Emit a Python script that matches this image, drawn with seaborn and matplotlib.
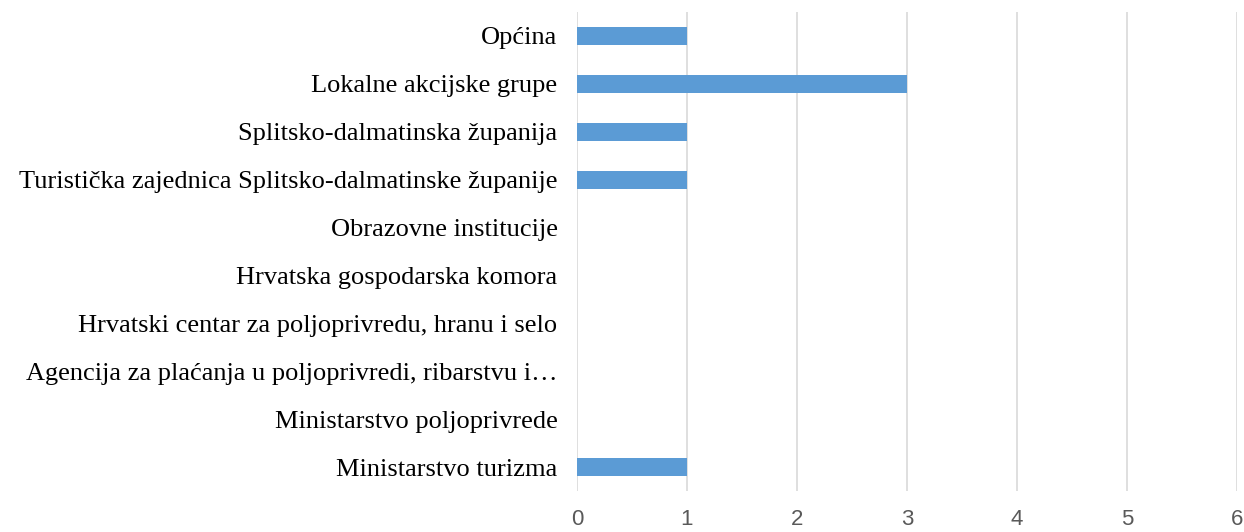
import matplotlib
matplotlib.use("Agg")
import matplotlib.pyplot as plt
import seaborn as sns
import pandas as pd

categories = [
    "Općina",
    "Lokalne akcijske grupe",
    "Splitsko-dalmatinska županija",
    "Turistička zajednica Splitsko-dalmatinske županije",
    "Obrazovne institucije",
    "Hrvatska gospodarska komora",
    "Hrvatski centar za poljoprivredu, hranu i selo",
    "Agencija za plaćanja u poljoprivredi, ribarstvu i…",
    "Ministarstvo poljoprivrede",
    "Ministarstvo turizma",
]
values = [1, 3, 1, 1, 0, 0, 0, 0, 0, 1]
x_ticks = [0, 1, 2, 3, 4, 5, 6]

df = pd.DataFrame({"category": categories, "value": values})

sns.set_style("white")
fig = plt.figure(figsize=(12.44, 5.32), dpi=100)
ax = fig.add_axes([577 / 1244, 1 - 491 / 532, 660 / 1244, 479 / 532])

sns.barplot(data=df, x="value", y="category", orient="h", color="#5B9BD5",
            width=0.375, linewidth=0, saturation=1, ax=ax)

ax.set_xlim(0, 6)
ax.set_xticks(x_ticks)
ax.set_ylim(len(categories) - 0.5, -0.5)
ax.xaxis.grid(True, color="#D9D9D9", linewidth=1.2)
ax.set_axisbelow(True)
for s in ax.spines.values():
    s.set_visible(False)
ax.set_xlabel("")
ax.set_ylabel("")
ax.tick_params(axis="x", length=0, pad=13, labelsize=16, labelcolor="#595959")
ax.tick_params(axis="y", length=0, pad=14)
for lbl in ax.get_yticklabels():
    lbl.set_fontfamily("Liberation Serif")
    lbl.set_fontsize(19)
    lbl.set_color("#000000")
for lbl in ax.get_xticklabels():
    lbl.set_fontfamily("Liberation Sans")

fig.savefig("out.png", dpi=100)
